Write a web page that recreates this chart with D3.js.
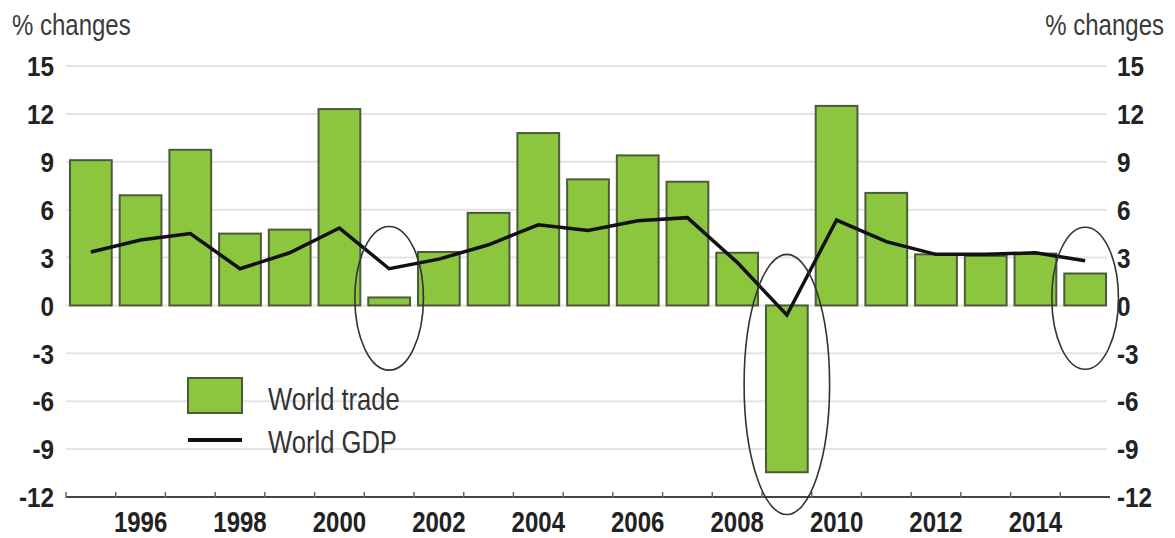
<!DOCTYPE html>
<html>
<head>
<meta charset="utf-8">
<script src="https://cdn.jsdelivr.net/npm/d3@7"></script>
<style>
  html, body { margin: 0; padding: 0; background: #ffffff; }
  svg { display: block; }
  text { font-family: "Liberation Sans", Arial, Helvetica, sans-serif; }
</style>
</head>
<body>
<svg id="chart" width="1175" height="538"></svg>
<script>
// Annual growth, % changes
const years = [1995, 1996, 1997, 1998, 1999, 2000, 2001, 2002, 2003, 2004, 2005,
               2006, 2007, 2008, 2009, 2010, 2011, 2012, 2013, 2014, 2015];
const worldTrade = [9.1, 6.9, 9.75, 4.5, 4.75, 12.3, 0.5, 3.35, 5.8, 10.8, 7.9,
                    9.4, 7.75, 3.3, -10.45, 12.5, 7.05, 3.2, 3.1, 3.25, 2.0];
const worldGDP = [3.35, 4.1, 4.5, 2.3, 3.3, 4.85, 2.3, 2.9, 3.8, 5.05, 4.7,
                  5.3, 5.5, 2.7, -0.6, 5.35, 4.0, 3.2, 3.2, 3.3, 2.8];
const yTicks = [15, 12, 9, 6, 3, 0, -3, -6, -9, -12];
const xLabelYears = [1996, 1998, 2000, 2002, 2004, 2006, 2008, 2010, 2012, 2014];
const unitLabel = "% changes";
const legendLabels = ["World trade", "World GDP"];
// Years ringed by hand: centre value, half-height (in % points), half-width (in bands)
const ringedYears = [2001, 2009, 2015];
const ringMid = [0.45, -4.95, 0.45];
const ringHalfSpan = [4.5, 8.15, 4.45];
const ringHalfWidth = [0.69, 0.86, 0.67];

const svg = d3.select("#chart");
const plotLeft = 66, plotRight = 1110, plotTop = 66, plotBottom = 497;
const squeeze = "scale(0.8,1)";

const xStep = d3.scaleBand().domain(years).range([plotLeft, plotRight]).padding(0);
const x = d3.scaleBand().domain(years).range([plotLeft, plotRight])
  .paddingInner(0.16).paddingOuter(0.08);
const y = d3.scaleLinear().domain([-12, 15]).range([plotBottom, plotTop]);

// gridlines
svg.append("g")
  .selectAll("line")
  .data(yTicks.filter(v => v !== -12))
  .join("line")
  .attr("x1", plotLeft).attr("x2", plotRight - 3)
  .attr("y1", d => y(d)).attr("y2", d => y(d))
  .attr("stroke", "#e4e4e4").attr("stroke-width", 2);

// left & right value axes (plain hyphen for negatives)
const plain = d => String(d);
const leftAxis = svg.append("g").attr("transform", `translate(${plotLeft - 12},0)`)
  .call(d3.axisLeft(y).tickValues(yTicks).tickSize(0).tickPadding(0).tickFormat(plain));
const rightAxis = svg.append("g").attr("transform", `translate(${plotRight + 7},0)`)
  .call(d3.axisRight(y).tickValues(yTicks).tickSize(0).tickPadding(0).tickFormat(plain));
[leftAxis, rightAxis].forEach(g => {
  g.select(".domain").remove();
  g.selectAll("text")
    .attr("x", 0)
    .attr("dy", "0.36em")
    .attr("transform", "scale(0.9,1)")
    .style("font-size", "27px").style("font-weight", "bold").attr("fill", "#222");
});

// bars
svg.append("g")
  .selectAll("rect")
  .data(years)
  .join("rect")
  .attr("x", d => x(d))
  .attr("width", x.bandwidth())
  .attr("y", (d, i) => y(Math.max(0, worldTrade[i])))
  .attr("height", (d, i) => Math.abs(y(worldTrade[i]) - y(0)))
  .attr("fill", "#8cc63f")
  .attr("stroke", "#4c5a3c")
  .attr("stroke-width", 2);

// GDP line
const line = d3.line()
  .x((d, i) => xStep(years[i]) + xStep.bandwidth() / 2)
  .y(d => y(d));
svg.append("path")
  .datum(worldGDP)
  .attr("d", line)
  .attr("fill", "none")
  .attr("stroke", "#111")
  .attr("stroke-width", 3.5)
  .attr("stroke-linejoin", "miter");

// x axis baseline with ticks between years
svg.append("line")
  .attr("x1", plotLeft).attr("x2", plotRight)
  .attr("y1", plotBottom).attr("y2", plotBottom)
  .attr("stroke", "#444").attr("stroke-width", 2);
svg.append("g")
  .selectAll("line")
  .data(years)
  .join("line")
  .attr("x1", d => xStep(d)).attr("x2", d => xStep(d))
  .attr("y1", plotBottom - 5).attr("y2", plotBottom + 1)
  .attr("stroke", "#666").attr("stroke-width", 1.5);

const bottomAxis = svg.append("g").attr("transform", `translate(0,${plotBottom})`)
  .call(d3.axisBottom(xStep).tickValues(xLabelYears).tickSize(0).tickPadding(14));
bottomAxis.select(".domain").remove();
bottomAxis.selectAll("text")
  .attr("transform", squeeze)
  .style("font-size", "30px").style("font-weight", "bold").attr("fill", "#222");

// unit captions
svg.append("text")
  .attr("transform", `translate(12,35) ${squeeze}`)
  .style("font-size", "30px").attr("fill", "#3a3a3a")
  .text(unitLabel);
svg.append("text")
  .attr("transform", `translate(1164,35) ${squeeze}`)
  .attr("text-anchor", "end")
  .style("font-size", "30px").attr("fill", "#3a3a3a")
  .text(unitLabel);

// hand-drawn rings
svg.append("g")
  .selectAll("ellipse")
  .data(ringedYears)
  .join("ellipse")
  .attr("cx", d => xStep(d) + xStep.bandwidth() / 2)
  .attr("cy", (d, i) => y(ringMid[i]))
  .attr("rx", (d, i) => ringHalfWidth[i] * xStep.bandwidth())
  .attr("ry", (d, i) => y(0) - y(ringHalfSpan[i]))
  .attr("fill", "none")
  .attr("stroke", "#333")
  .attr("stroke-width", 1.6);

// legend
const legend = svg.append("g");
legend.append("rect")
  .attr("x", 188).attr("y", 378).attr("width", 54).attr("height", 35)
  .attr("fill", "#8cc63f").attr("stroke", "#4c5a3c").attr("stroke-width", 2);
legend.append("line")
  .attr("x1", 188).attr("x2", 242).attr("y1", 440).attr("y2", 440)
  .attr("stroke", "#111").attr("stroke-width", 4);
legend.selectAll("text")
  .data(legendLabels)
  .join("text")
  .attr("transform", (d, i) => `translate(268,${410 + i * 43}) ${squeeze}`)
  .style("font-size", "32px").attr("fill", "#333")
  .text(d => d);
</script>
</body>
</html>
